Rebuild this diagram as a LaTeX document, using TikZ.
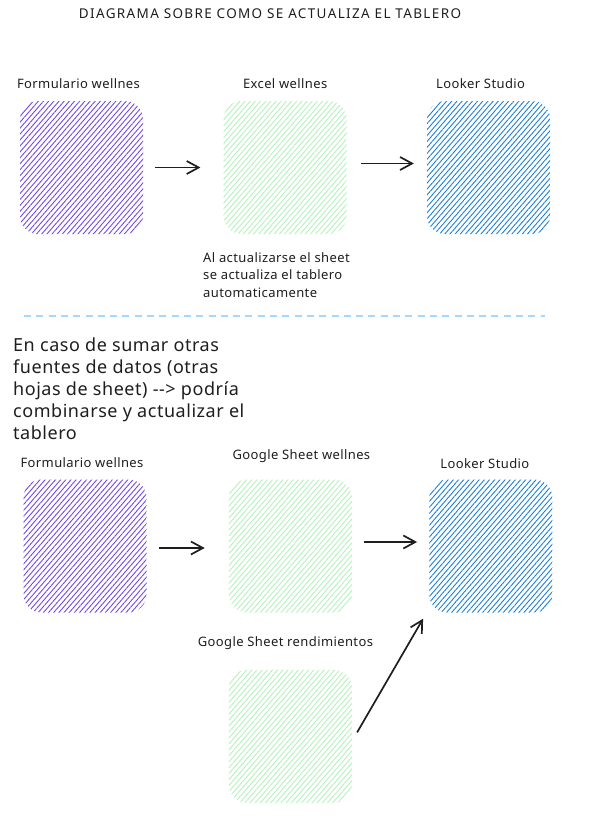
\documentclass[tikz,border=0pt]{standalone}
\usepackage{fontspec}
\setmainfont{Noto Sans}[LetterSpace=3]
\newfontfamily\titulofont[LetterSpace=10]{Noto Sans}
\usetikzlibrary{arrows.meta, positioning, patterns.meta}
\definecolor{violeta}{HTML}{7048E8}
\definecolor{verde}{HTML}{B2F2BB}
\definecolor{azul}{HTML}{1C7ED6}
\definecolor{celeste}{HTML}{A5D8FF}
\definecolor{tinta}{HTML}{1E1E1E}

\begin{document}
\begin{tikzpicture}[
    x = 1pt, y = -1pt,
    node distance = 80pt and 80pt,
    caja/.style = {rectangle, rounded corners=18pt, minimum width=123pt, minimum height=133pt,
      pattern={Lines[angle=49, distance=3.9pt, line width=0.9pt]}},
    rotulo/.style = {inner sep=0pt, text height=9pt, text depth=3pt, text=tinta,
      font=\fontsize{13}{15}\selectfont},
    flecha/.style = {tinta, line width=1.7pt, -{Straight Barb[length=12pt, width=13pt]}},
    ]
  \useasboundingbox (0,0) rectangle (589,817);

  \node[text=tinta, font=\titulofont\fontsize{13.5}{15}\selectfont] (titulo) at (270,14)
    {DIAGRAMA SOBRE COMO SE ACTUALIZA EL TABLERO} ;

  % flujo actual
  \node[caja, pattern color=violeta] (form1) at (81.5,167.5) {} ;
  \node[caja, pattern color=verde] (excel) [right=of form1] {} ;
  \node[caja, pattern color=azul] (looker1) [right=of excel] {} ;

  \node[rotulo] (tform1) [above=9pt of form1, xshift=-3pt] {Formulario wellnes} ;
  \node[rotulo] (texcel) [above=9pt of excel] {Excel wellnes} ;
  \node[rotulo] (tlooker1) [above=9pt of looker1, xshift=-8pt] {Looker Studio} ;

  \node[text=tinta, inner sep=0pt, align=left, anchor=north west,
    font=\fontsize{13}{17.5}\selectfont] (nota) at (203,252)
    {Al actualizarse el sheet\\se actualiza el tablero\\automaticamente} ;

  % separador
  \coordinate (sepA) at (24,316) ;
  \coordinate (sepB) at (545,316) ;
  \draw[celeste, line width=2pt, dash pattern=on 7pt off 5.3pt] (sepA) -- (sepB) ;

  % flujo con otras fuentes
  \node[text=tinta, inner sep=0pt, align=left, anchor=north west,
    font=\fontsize{18}{22}\selectfont] (caso) at (13,338)
    {En caso de sumar otras\\fuentes de datos (otras\\hojas de sheet) -{}-> podría\\combinarse y actualizar el\\tablero} ;

  \node[caja, pattern color=violeta] (form2) at (85,546) {} ;
  \node[caja, pattern color=verde] (gsw) [right=82pt of form2] {} ;
  \node[caja, pattern color=azul] (looker2) [right=77pt of gsw] {} ;
  \node[caja, pattern color=verde] (gsr) [below=57pt of gsw] {} ;

  \node[rotulo] (tform2) [above=9pt of form2, xshift=-3pt] {Formulario wellnes} ;
  \node[rotulo] (tgsw) [above=17pt of gsw, xshift=11pt] {Google Sheet wellnes} ;
  \node[rotulo] (tlooker2) [above=8pt of looker2, xshift=-6pt] {Looker Studio} ;
  \node[rotulo] (tgsr) [above=20pt of gsr, xshift=-5pt] {Google Sheet rendimientos} ;

  \draw[flecha, shorten <=12pt, shorten >=23pt] (form1) -- (excel) ;
  \draw[flecha, shorten <=14pt, shorten >=13pt] ([yshift=4pt]excel.east) -- ([yshift=4pt]looker1.west) ;
  \draw[flecha, shorten <=12pt, shorten >=24pt] ([yshift=-2pt]form2.east) -- ([yshift=-2pt]gsw.west) ;
  \draw[flecha, shorten <=12pt, shorten >=12pt] ([yshift=4pt]gsw.east) -- ([yshift=4pt]looker2.west) ;
  \draw[flecha] ([shift={(5pt,4pt)}]gsr.east) -- ([shift={(-6pt,-6pt)}]looker2.south west) ;
\end{tikzpicture}
\end{document}
